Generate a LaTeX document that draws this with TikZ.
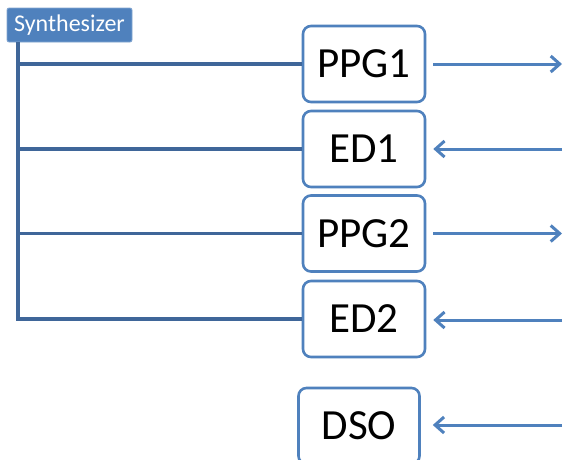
\documentclass[tikz,border=0pt]{standalone}
\usepackage{fontspec}
\setmainfont{Carlito}
\usetikzlibrary{arrows.meta}
\definecolor{boxblue}{HTML}{4F81BD}
\definecolor{trunkblue}{HTML}{3F6699}
\tikzset{
  blk/.style={draw=boxblue, line width=2.6pt, rounded corners=8pt, fill=white,
    minimum width=122pt, minimum height=76pt, inner sep=0pt,
    font=\fontsize{43}{48}\selectfont, text=black},
  trunk/.style={draw=trunkblue, line width=3.3pt},
  arr/.style={draw=boxblue, line width=3pt, -{Straight Barb[length=9pt,width=16pt,line width=3pt]}},
  lab/.style={fill=boxblue, draw=boxblue!70!white, line width=0.8pt, rounded corners=2pt,
    minimum width=125pt, minimum height=34pt, inner sep=0pt,
    font=\fontsize{24}{28}\selectfont, text=white}
}
\begin{document}
\begin{tikzpicture}[x=1pt,y=-1pt]
\useasboundingbox (0,0) rectangle (563,459);
\fill[white] (0,0) rectangle (563,459);
\begin{scope}
\clip (0,0) rectangle (563,459);
\node[lab] (syn) at (69.5,25) {Synthesizer};
\node[blk] (p1) at (364,64) {PPG1};
\node[blk] (e1) at (364,149) {ED1};
\node[blk] (p2) at (364,233.5) {PPG2};
\node[blk] (e2) at (364,319) {ED2};
\node[blk, minimum width=121pt] (dso) at (359,426) {DSO};
\coordinate (top) at (18,42);
\coordinate (t1) at (18,64);
\coordinate (t2) at (18,149);
\coordinate (t3) at (18,233.5);
\coordinate (t4) at (18,319);
\coordinate (o1) at (562,64);
\coordinate (o2) at (562,149);
\coordinate (o3) at (562,233.5);
\coordinate (o4) at (562,320);
\coordinate (o5) at (562,425);
\draw[trunk] (top) -- (t4) -- (e2.west);
\draw[trunk] (t1) -- (p1.west);
\draw[trunk] (t2) -- (e1.west);
\draw[trunk] (t3) -- (p2.west);
\draw[arr] ([xshift=7pt]p1.east) -- (o1);
\draw[arr] (o2) -- ([xshift=7pt]e1.east);
\draw[arr] ([xshift=7pt]p2.east) -- (o3);
\draw[arr] (o4) -- ([xshift=7pt,yshift=-1pt]e2.east);
\draw[arr] (o5) -- ([xshift=12pt,yshift=1pt]dso.east);
\end{scope}
\end{tikzpicture}
\end{document}
